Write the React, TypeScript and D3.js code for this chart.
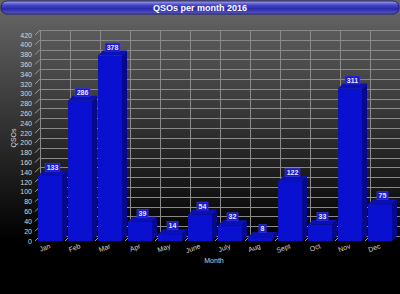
import React from "react";
import * as d3 from "d3";

const months = ["Jan", "Feb", "Mar", "Apr", "May", "June", "July", "Aug", "Sept", "Oct", "Nov", "Dec"];
const qsos = [133, 286, 378, 39, 14, 54, 32, 8, 122, 33, 311, 75];
const yTicks = d3.range(0, 421, 20);
const title = "QSOs per month 2016";
const xTitle = "Month";
const yTitle = "QSOs";

const W = 400;
const H = 294;
const D = 5;
const FONT = "'Liberation Sans', Arial, sans-serif";

export default function App() {
  const x = d3.scaleBand<string>().domain(months).range([35, 395]).paddingInner(0.2).paddingOuter(0.1);
  const y = d3.scaleLinear().domain([0, 420]).range([241, 35]);
  const step = x.step();
  const bounds = d3.range(0, months.length + 1).map((i) => 35 + i * step);
  const bw = x.bandwidth();

  return (
    <svg width={W} height={H} style={{ position: "absolute", left: 0, top: 0, display: "block" }} fontFamily={FONT}>
      <defs>
        <linearGradient id="bg2" x1="0" y1="14" x2="0" y2="240" gradientUnits="userSpaceOnUse">
          <stop offset="0" stopColor="#626262" />
          <stop offset="1" stopColor="#000000" />
        </linearGradient>
        <linearGradient id="tb" x1="0" y1="0" x2="0" y2="1">
          <stop offset="0" stopColor="#a8a8f0" />
          <stop offset="0.3" stopColor="#4848c8" />
          <stop offset="0.6" stopColor="#2828a8" />
          <stop offset="1" stopColor="#5a5ac8" />
        </linearGradient>
      </defs>
      <rect x={0} y={0} width={W} height={H} fill="url(#bg2)" />
      <rect x={1} y={1} width={398} height={13} rx={6} ry={6} fill="url(#tb)" stroke="#20207a" strokeWidth={1} />
      <text x={200} y={11} textAnchor="middle" fill="#ffffff" fontSize={9} fontWeight="bold">
        {title}
      </text>

      {/* back wall grid */}
      <g stroke="#8a8a8a" strokeWidth={1} fill="none" shapeRendering="crispEdges">
        {yTicks.map((t) => (
          <line key={"h" + t} x1={35 + D} x2={400} y1={Math.round(y(t) - D) + 0.5} y2={Math.round(y(t) - D) + 0.5} />
        ))}
        {bounds.slice(0, 12).map((b, i) => (
          <line key={"v" + i} x1={Math.round(b + D) + 0.5} x2={Math.round(b + D) + 0.5} y1={y(420) - D} y2={y(0) - D} />
        ))}
      </g>
      <g stroke="#9a9a9a" strokeWidth={1} fill="none">
        {yTicks.map((t) => (
          <line key={"s" + t} x1={35} y1={y(t)} x2={35 + D} y2={y(t) - D} />
        ))}
        {bounds.slice(1, 12).map((b, i) => (
          <line key={"f" + i} x1={b} y1={y(0)} x2={b + D} y2={y(0) - D} />
        ))}
      </g>

      {/* y tick labels */}
      <g fill="#d8d8d8" fontSize={7} textAnchor="end">
        {yTicks.map((t) => (
          <text key={"yl" + t} x={32} y={y(t) + 2.5}>
            {t}
          </text>
        ))}
      </g>
      <text transform={`translate(16,${138}) rotate(-90)`} textAnchor="middle" fill="#d8d8d8" fontSize={7}>
        {yTitle}
      </text>

      {/* bars */}
      {months.map((m, i) => {
        const v = qsos[i];
        const x0 = x(m)!;
        const x1 = x0 + bw;
        const yt = y(v);
        const yb = y(0);
        const label = String(v);
        const lw = label.length * 3.8 + 3.5;
        const cx = x0 + bw / 2 + D / 2;
        return (
          <g key={m}>
            <polygon
              points={`${x1},${yt} ${x1 + D},${yt - D} ${x1 + D},${yb - D} ${x1},${yb}`}
              fill="#060a88"
            />
            <polygon
              points={`${x0},${yt} ${x0 + D},${yt - D} ${x1 + D},${yt - D} ${x1},${yt}`}
              fill="#0a10b4"
            />
            <rect x={x0} y={yt} width={bw} height={yb - yt} fill="#0a10d0" />
            <rect x={cx - lw / 2} y={yt - D - 7.5} width={lw} height={8} fill="#1a1acc" stroke="#3a3ae8" strokeWidth={0.6} />
            <text x={cx} y={yt - D - 0.9} textAnchor="middle" fill="#e8e8ff" fontSize={7} fontWeight="bold">
              {label}
            </text>
          </g>
        );
      })}

      {/* x labels */}
      <g fill="#d0d0d0" fontSize={7}>
        {months.map((m) => {
          const cx = x(m)! + bw / 2 + 1;
          return (
            <text key={"xl" + m} transform={`translate(${cx},${248}) rotate(-20)`} textAnchor="end">
              {m}
            </text>
          );
        })}
      </g>
      <text x={214} y={263} textAnchor="middle" fill="#d0d0d0" fontSize={7}>
        {xTitle}
      </text>
    </svg>
  );
}
